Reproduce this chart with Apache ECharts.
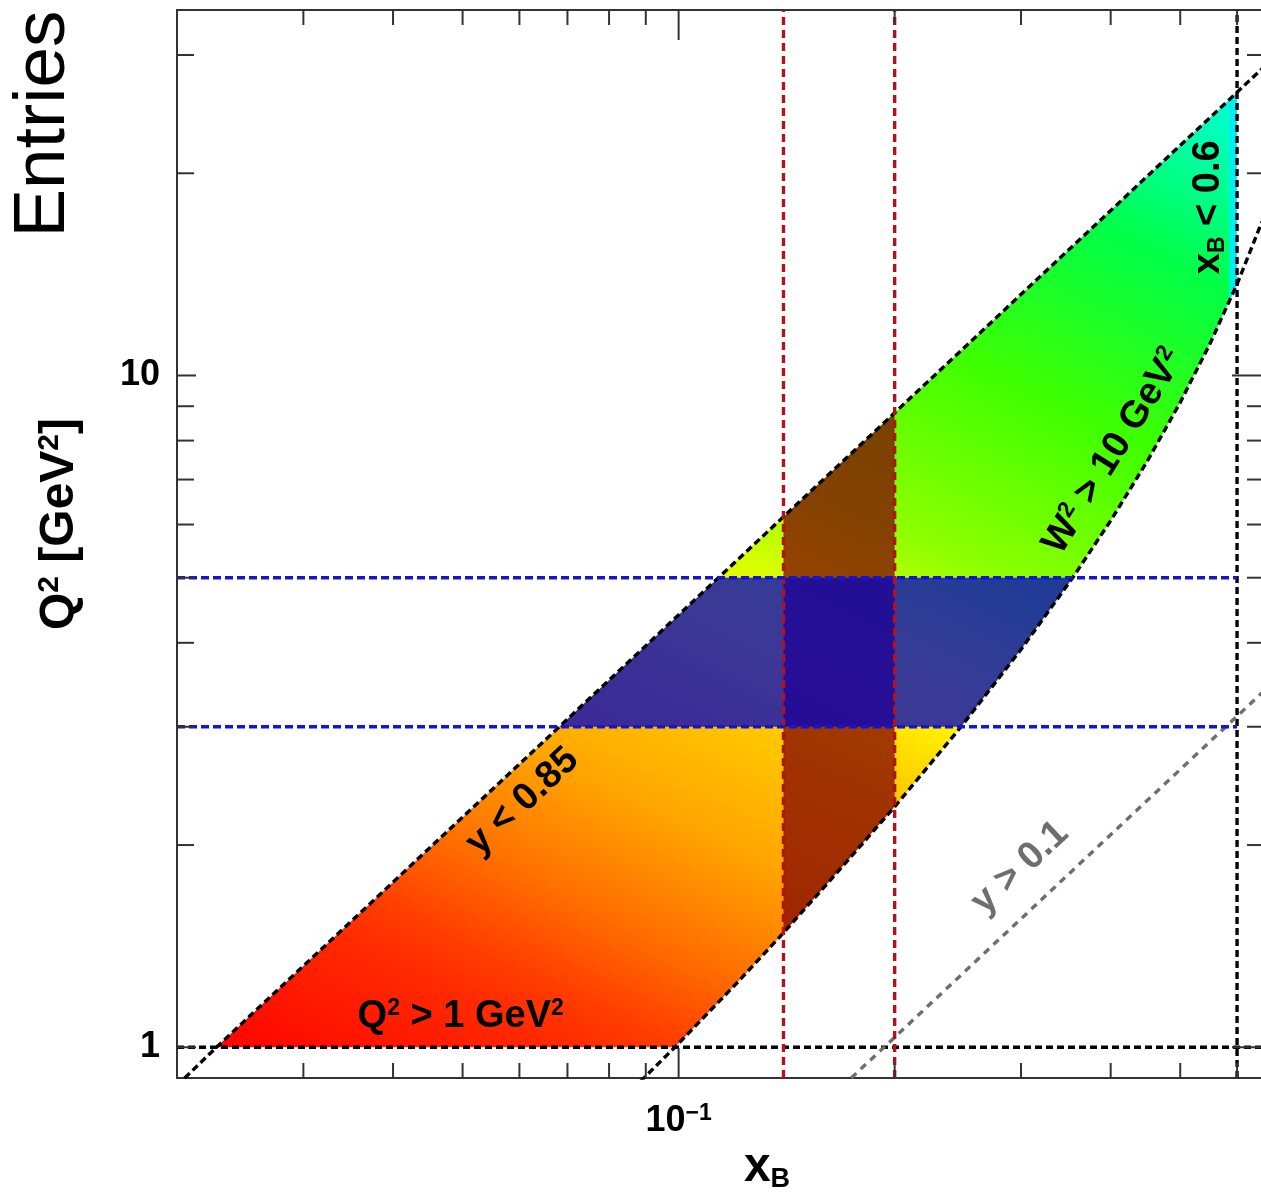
<!DOCTYPE html>
<html>
<head>
<meta charset="utf-8">
<script src="https://cdn.jsdelivr.net/npm/echarts@6/dist/echarts.min.js"></script>
<style>
  html, body { margin: 0; padding: 0; background: #ffffff; }
  #chart { width: 1261px; height: 1198px; }
</style>
</head>
<body>
<div id="chart"></div>
<script>
// DIS kinematic plane: Q^2 versus x_B with the selection cuts and one (x_B, Q^2) bin highlighted.

// Selection cuts
const q2Min = 1;            // Q^2 > 1 GeV^2
const xMaxCut = 0.6;        // x_B < 0.6
const xBinEdges = [0.14, 0.2];
const q2BinEdges = [3, 5];

// y < 0.85 boundary
const yHighX  = [0.0205, 0.0227, 0.0682, 0.1136, 0.14, 0.2, 0.6, 0.65];
const yHighQ2 = [0.90, 1.00, 3.00, 5.00, 6.16, 8.80, 26.4, 28.6];

// W^2 > 10 GeV^2 boundary
const w2X  = [0.0885, 0.0988, 0.12, 0.14, 0.17, 0.2, 0.2475, 0.3, 0.3541, 0.4, 0.45, 0.5, 0.55, 0.6, 0.65];
const w2Q2 = [0.89, 1.00, 1.24, 1.48, 1.87, 2.28, 3.00, 3.91, 5.00, 6.08, 7.46, 9.12, 11.15, 13.68, 16.94];

// y > 0.1 boundary
const yLowX  = [0.174, 0.65];
const yLowQ2 = [0.90, 3.37];

// last (partially filled) x_B column of the histogram
const edgeBinX = [0.585, 0.6];

// Axis ticks
const xMajorTicks = [0.1];
const xMinorTicks = [0.03, 0.04, 0.05, 0.06, 0.07, 0.08, 0.09, 0.2, 0.3, 0.4, 0.5, 0.6];
const yMajorTicks = [1, 10];
const yMinorTicks = [2, 3, 4, 5, 6, 7, 8, 9, 20, 30];

const FONT = '"Liberation Sans", Arial, Helvetica, sans-serif';
const L = Math.log10;

function pairs(xs, ys) { return xs.map((x, i) => [x, ys[i]]); }

// Accepted phase-space polygon: Q^2 = 1 floor, W^2 curve, x_B = 0.6 wall, y = 0.85 line
const upper = pairs(yHighX, yHighQ2).filter(p => p[1] >= q2Min && p[0] <= xMaxCut);
const lower = pairs(w2X, w2Q2).filter(p => p[1] >= q2Min && p[0] <= xMaxCut);
const region = [upper[0], ...lower, ...upper.slice(1).reverse()];

// Sutherland-Hodgman clipping in log-log space
function clipHalf(poly, axis, bound, keepAbove) {
  const out = [];
  const inside = p => keepAbove ? p[axis] >= bound - 1e-12 : p[axis] <= bound + 1e-12;
  const o = 1 - axis;
  for (let i = 0; i < poly.length; i++) {
    const a = poly[i], b = poly[(i + 1) % poly.length];
    const ia = inside(a), ib = inside(b);
    if (ia) out.push(a);
    if (ia !== ib) {
      const t = (L(bound) - L(a[axis])) / (L(b[axis]) - L(a[axis]));
      const v = Math.pow(10, L(a[o]) + t * (L(b[o]) - L(a[o])));
      const p = []; p[axis] = bound; p[o] = v;
      out.push(p);
    }
  }
  return out;
}
function clipBand(poly, axis, lo, hi) {
  return clipHalf(clipHalf(poly, axis, lo, true), axis, hi, false);
}

// Colour ramp of the entries density (low x_B / low Q^2 = most populated)
const densityStops = [
  [0.000, '#ff0400'], [0.117, '#ff2a00'], [0.153, '#ff3c00'], [0.224, '#ff7000'],
  [0.313, '#ffa600'], [0.401, '#ffc800'], [0.461, '#fff000'], [0.519, '#d4ff00'],
  [0.582, '#90ff00'], [0.723, '#40ff00'], [0.864, '#00ff48'], [0.964, '#00ffb8'],
  [1.000, '#00ffdc']
];

const shapes = [
  { poly: region, fill: 'density' },
  { poly: clipBand(region, 0, edgeBinX[0], edgeBinX[1]), fill: '#00eeee' },
  { poly: clipBand(region, 0, xBinEdges[0], xBinEdges[1]), fill: 'rgba(128,0,0,0.74)' },
  { poly: clipBand(region, 1, q2BinEdges[0], q2BinEdges[1]), fill: 'rgba(0,0,196,0.765)' }
];

function renderShape(params, api) {
  const s = shapes[params.dataIndex];
  const points = s.poly.map(p => api.coord(p));
  let fill = s.fill;
  if (fill === 'density') {
    const dir = [0.431, -0.902];
    const p0 = api.coord(region[0]);
    const pc = api.coord(upper[upper.length - 1]);
    const len = (pc[0] - p0[0]) * dir[0] + (pc[1] - p0[1]) * dir[1];
    fill = {
      type: 'linear', global: true,
      x: p0[0], y: p0[1], x2: p0[0] + dir[0] * len, y2: p0[1] + dir[1] * len,
      colorStops: densityStops.map(d => ({ offset: d[0], color: d[1] }))
    };
  }
  return { type: 'polygon', shape: { points }, style: { fill: fill, stroke: null } };
}

// Tick marks on all four sides of the frame
const tickItems = [];
xMajorTicks.forEach(v => tickItems.push({ axis: 'x', v, major: true }));
xMinorTicks.forEach(v => tickItems.push({ axis: 'x', v, major: false }));
yMajorTicks.forEach(v => tickItems.push({ axis: 'y', v, major: true }));
yMinorTicks.forEach(v => tickItems.push({ axis: 'y', v, major: false }));

function renderTick(params, api) {
  const t = tickItems[params.dataIndex];
  const cs = params.coordSys;
  const st = { stroke: '#333333', lineWidth: 2 };
  const len = t.major ? 30 : 15;
  if (t.axis === 'x') {
    const px = api.coord([t.v, 1])[0];
    const yb = cs.y + cs.height, yt = cs.y;
    return { type: 'group', children: [
      { type: 'line', shape: { x1: px, y1: yb, x2: px, y2: yb - len }, style: st },
      { type: 'line', shape: { x1: px, y1: yt, x2: px, y2: yt + len }, style: st }
    ] };
  }
  const py = api.coord([0.1, t.v])[1];
  const xl = cs.x, xr = cs.x + cs.width;
  const leftLen = t.major ? 19 : 17;
  return { type: 'group', children: [
    { type: 'line', shape: { x1: xl, y1: py, x2: xl + leftLen, y2: py }, style: st },
    { type: 'line', shape: { x1: xr, y1: py, x2: xr - len, y2: py }, style: st }
  ] };
}

// Cut annotations
const labelRich = {
  sup: { fontSize: 23, fontWeight: 'bold', fontFamily: FONT, verticalAlign: 'top', lineHeight: 12 },
  sub: { fontSize: 23, fontWeight: 'bold', fontFamily: FONT, verticalAlign: 'bottom', lineHeight: 14 }
};
const annotations = [
  { at: [0.0606, 2.32], text: 'y < 0.85', angle: 43, color: '#000000' },
  { at: [0.0497, 1.11], text: 'Q{sup|2} > 1 GeV{sup|2}', angle: 0, color: '#000000' },
  { at: [0.404, 7.71], text: 'W{sup|2} > 10 GeV{sup|2}', angle: 58, color: '#000000' },
  { at: [0.548, 17.8], text: 'x{sub|B} < 0.6', angle: 90, color: '#000000' },
  { at: [0.299, 1.85], text: 'y > 0.1', angle: 43, color: '#6e6e6e' }
];
function renderLabel(params, api) {
  const a = annotations[params.dataIndex];
  const p = api.coord(a.at);
  const rich = {};
  Object.keys(labelRich).forEach(k => { rich[k] = Object.assign({ fill: a.color }, labelRich[k]); });
  return {
    type: 'text', x: p[0], y: p[1], rotation: a.angle * Math.PI / 180,
    style: {
      text: a.text, fill: a.color, fontSize: 38, fontWeight: 'bold', fontFamily: FONT,
      align: 'center', verticalAlign: 'middle', lineHeight: 40, rich: rich
    }
  };
}

function dashed(name, data, color, dash) {
  return {
    name, type: 'line', data, symbol: 'none', silent: true, z: 3,
    lineStyle: { color, width: 3.4, type: dash }, clip: true, animation: false
  };
}

const option = {
  animation: false,
  backgroundColor: '#ffffff',
  grid: {
    left: 177, top: 10, width: 1085, height: 1068, outerBoundsMode: 'none', containLabel: false,
    show: true, borderColor: '#333333', borderWidth: 2, backgroundColor: 'transparent'
  },
  xAxis: {
    type: 'log', logBase: 10, min: 0.02, max: 0.65,
    axisLine: { show: false }, axisTick: { show: false }, splitLine: { show: false }, minorTick: { show: false },
    axisLabel: {
      margin: 24, color: '#000000',
      formatter: v => Math.abs(v - 0.1) < 1e-9 ? '{b|10}{s|\u22121}' : '',
      rich: {
        b: { fontSize: 36, fontWeight: 'bold', fontFamily: FONT, color: '#000', lineHeight: 38 },
        s: { fontSize: 23, fontWeight: 'bold', fontFamily: FONT, color: '#000', verticalAlign: 'top', lineHeight: 14 }
      }
    }
  },
  yAxis: {
    type: 'log', logBase: 10, min: 0.9, max: 35,
    axisLine: { show: false }, axisTick: { show: false }, splitLine: { show: false }, minorTick: { show: false },
    axisLabel: {
      margin: 17, color: '#000000', fontSize: 36, fontWeight: 'bold', fontFamily: FONT,
      formatter: v => Math.abs(v - 1) < 1e-9 ? '1' : (Math.abs(v - 10) < 1e-9 ? '10' : '')
    }
  },
  graphic: [
    { type: 'text', x: 44, y: 124, rotation: Math.PI / 2,
      style: { text: 'Entries', fontSize: 73, fontFamily: FONT, fill: '#000', align: 'center', verticalAlign: 'middle' } },
    { type: 'text', x: 60, y: 524, rotation: Math.PI / 2,
      style: { text: 'Q{s|2} [GeV{s|2}]', fontSize: 48, fontWeight: 'bold', fontFamily: FONT, fill: '#000',
        align: 'center', verticalAlign: 'middle', lineHeight: 50,
        rich: { s: { fontSize: 30, fontWeight: 'bold', fontFamily: FONT, fill: '#000', verticalAlign: 'top', lineHeight: 18 } } } },
    { type: 'text', x: 767, y: 1168,
      style: { text: 'x{b|B}', fontSize: 48, fontWeight: 'bold', fontFamily: FONT, fill: '#000',
        align: 'center', verticalAlign: 'middle', lineHeight: 50,
        rich: { b: { fontSize: 27, fontWeight: 'bold', fontFamily: FONT, fill: '#000', verticalAlign: 'bottom', lineHeight: 12 } } } }
  ],
  series: [
    { name: 'entries', type: 'custom', renderItem: renderShape, z: 1, silent: true, clip: true,
      data: shapes.map(s => [s.poly[0][0], s.poly[0][1]]) },
    dashed('Q2 > 1', [[0.02, q2Min], [0.65, q2Min]], '#000000', [7, 4]),
    dashed('xB < 0.6', [[xMaxCut, 0.9], [xMaxCut, 35]], '#000000', [7, 4]),
    dashed('y < 0.85', pairs(yHighX, yHighQ2), '#000000', [7, 4]),
    dashed('W2 > 10', pairs(w2X, w2Q2), '#000000', [7, 4]),
    dashed('y > 0.1', pairs(yLowX, yLowQ2), '#6e6e6e', [7, 6]),
    dashed('xB bin low', [[xBinEdges[0], 0.9], [xBinEdges[0], 35]], '#b3121c', [8, 5]),
    dashed('xB bin high', [[xBinEdges[1], 0.9], [xBinEdges[1], 35]], '#b3121c', [8, 5]),
    dashed('Q2 bin low', [[0.02, q2BinEdges[0]], [xMaxCut, q2BinEdges[0]]], '#1414d2', [8, 4]),
    dashed('Q2 bin high', [[0.02, q2BinEdges[1]], [xMaxCut, q2BinEdges[1]]], '#1414d2', [8, 4]),
    { name: 'labels', type: 'custom', renderItem: renderLabel, z: 5, silent: true, clip: false,
      data: annotations.map(a => a.at) },
    { name: 'ticks', type: 'custom', renderItem: renderTick, z: 6, silent: true, clip: false,
      data: tickItems.map(t => t.axis === 'x' ? [t.v, 1] : [0.1, t.v]) }
  ]
};

const chart = echarts.init(document.getElementById('chart'), null, { renderer: 'canvas' });
chart.setOption(option);
</script>
</body>
</html>
